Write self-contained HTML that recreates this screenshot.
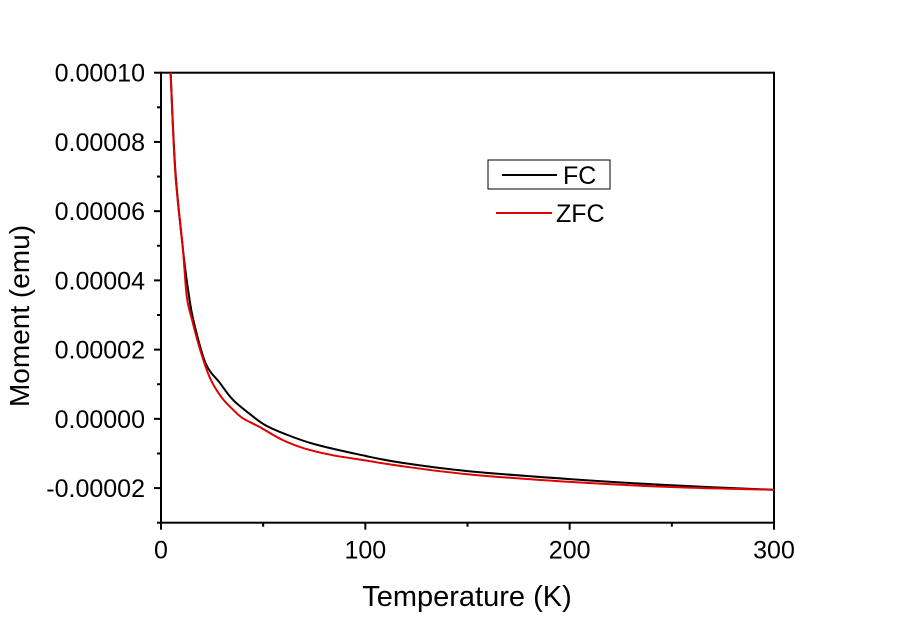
<!DOCTYPE html>
<html><head><meta charset="utf-8"><style>
body{margin:0;background:#fff;}
svg{display:block;font-family:"Liberation Sans",Arial,sans-serif;}
</style></head><body>
<svg id="chart" width="900" height="627">
<g id="axes"></g><g id="series"></g>
<g>
<rect x="488" y="160" width="122" height="29" fill="none" stroke="#000" stroke-width="1"/>
<line x1="502" y1="175" x2="557" y2="175" stroke="#000" stroke-width="2"/>
<text x="563" y="184" font-size="25">FC</text>
<line x1="496" y1="213" x2="552" y2="213" stroke="#e00000" stroke-width="2"/>
<text x="556" y="222" font-size="25">ZFC</text>
</g>
<text x="467" y="606" font-size="29" text-anchor="middle">Temperature (K)</text>
<text transform="translate(29,316) rotate(-90)" font-size="28" text-anchor="middle">Moment (emu)</text>
</svg>
<script>
const fcT=[4.7,7,10.6,13.5,16.2,21.9,28.9,35.4,45.2,51,60,75,100,117,150,200,250,300];
const fcM=[0.0001,0.000072,0.0000497,0.0000363,0.0000276,0.000016,0.0000103,0.0000054,0.0000006,-0.0000018,-0.0000042,-0.0000073,-0.0000107,-0.0000126,-0.0000151,-0.0000174,-0.0000192,-0.0000205];
const zfcT=[4.7,7,10.6,12.6,15,19.4,24,29.4,35,40,48.1,59.5,70,84,100,117,150,200,250,300];
const zfcM=[0.0001,0.000071,0.0000497,0.0000355,0.000029,0.0000195,0.0000118,0.0000064,0.0000028,0.0000002,-0.0000023,-0.0000061,-0.0000085,-0.0000105,-0.000012,-0.0000136,-0.000016,-0.0000182,-0.0000197,-0.0000205];
const xTicks=[0,100,200,300];
const yTicks=[0.0001,0.00008,0.00006,0.00004,0.00002,0,-0.00002];
const yTickLabels=["0.00010","0.00008","0.00006","0.00004","0.00002","0.00000","-0.00002"];
const X0=161,X1=774,Y0=72.7,Y1=522.7;
function sx(t){return X0+t/300*(X1-X0);}
function sy(m){return Y0+(0.0001-m)/0.00013*(Y1-Y0);}
const NS="http://www.w3.org/2000/svg";
function mk(tag,attrs,parent){const e=document.createElementNS(NS,tag);for(const k in attrs)e.setAttribute(k,attrs[k]);parent.appendChild(e);return e;}
const ax=document.getElementById('axes');
let frame=mk('rect',{x:X0,y:Y0,width:X1-X0,height:Y1-Y0,fill:'none',stroke:'#000','stroke-width':2},ax);


for(let t=0;t<=300;t+=50){const major=t%100===0;
 let l=mk('line',{x1:sx(t),x2:sx(t),y1:Y1,y2:Y1+(major?7:4),stroke:'#000','stroke-width':2},ax);
 
 }
xTicks.forEach(t=>{let tx=mk('text',{x:sx(t),y:Y1+36,'font-size':25,'text-anchor':'middle'},ax);tx.textContent=t;
 
 });
for(let i=0;i<=13;i++){const m=0.0001-i*0.00001;const major=i%2===0;
 let l=mk('line',{x1:X0-(major?7:4),x2:X0,y1:sy(m),y2:sy(m),stroke:'#000','stroke-width':2},ax);
 
 }
yTicks.forEach((m,i)=>{let tx=mk('text',{x:X0-16,y:sy(m)+9,'font-size':25,'text-anchor':'end'},ax);tx.textContent=yTickLabels[i];
 
 });
const se=document.getElementById('series');
function path(T,M,color,name){
 const P=T.map((t,i)=>[sx(t),sy(M[i])]);
 let d='M'+P[0][0].toFixed(1)+','+P[0][1].toFixed(1);
 for(let i=0;i<P.length-1;i++){
  const p0=P[Math.max(i-1,0)],p1=P[i],p2=P[i+1],p3=P[Math.min(i+2,P.length-1)];
  const c1=[p1[0]+(p2[0]-p0[0])/6,p1[1]+(p2[1]-p0[1])/6];
  const c2=[p2[0]-(p3[0]-p1[0])/6,p2[1]-(p3[1]-p1[1])/6];
  d+='C'+c1[0].toFixed(1)+','+c1[1].toFixed(1)+' '+c2[0].toFixed(1)+','+c2[1].toFixed(1)+' '+p2[0].toFixed(1)+','+p2[1].toFixed(1);
 }
 let p=mk('path',{d:d,fill:'none',stroke:color,'stroke-width':2,'stroke-linejoin':'round'},se);
 
 }
path(fcT,fcM,'#000','fc-line');
path(zfcT,zfcM,'#e00000','zfc-line');
</script>
</body></html>
